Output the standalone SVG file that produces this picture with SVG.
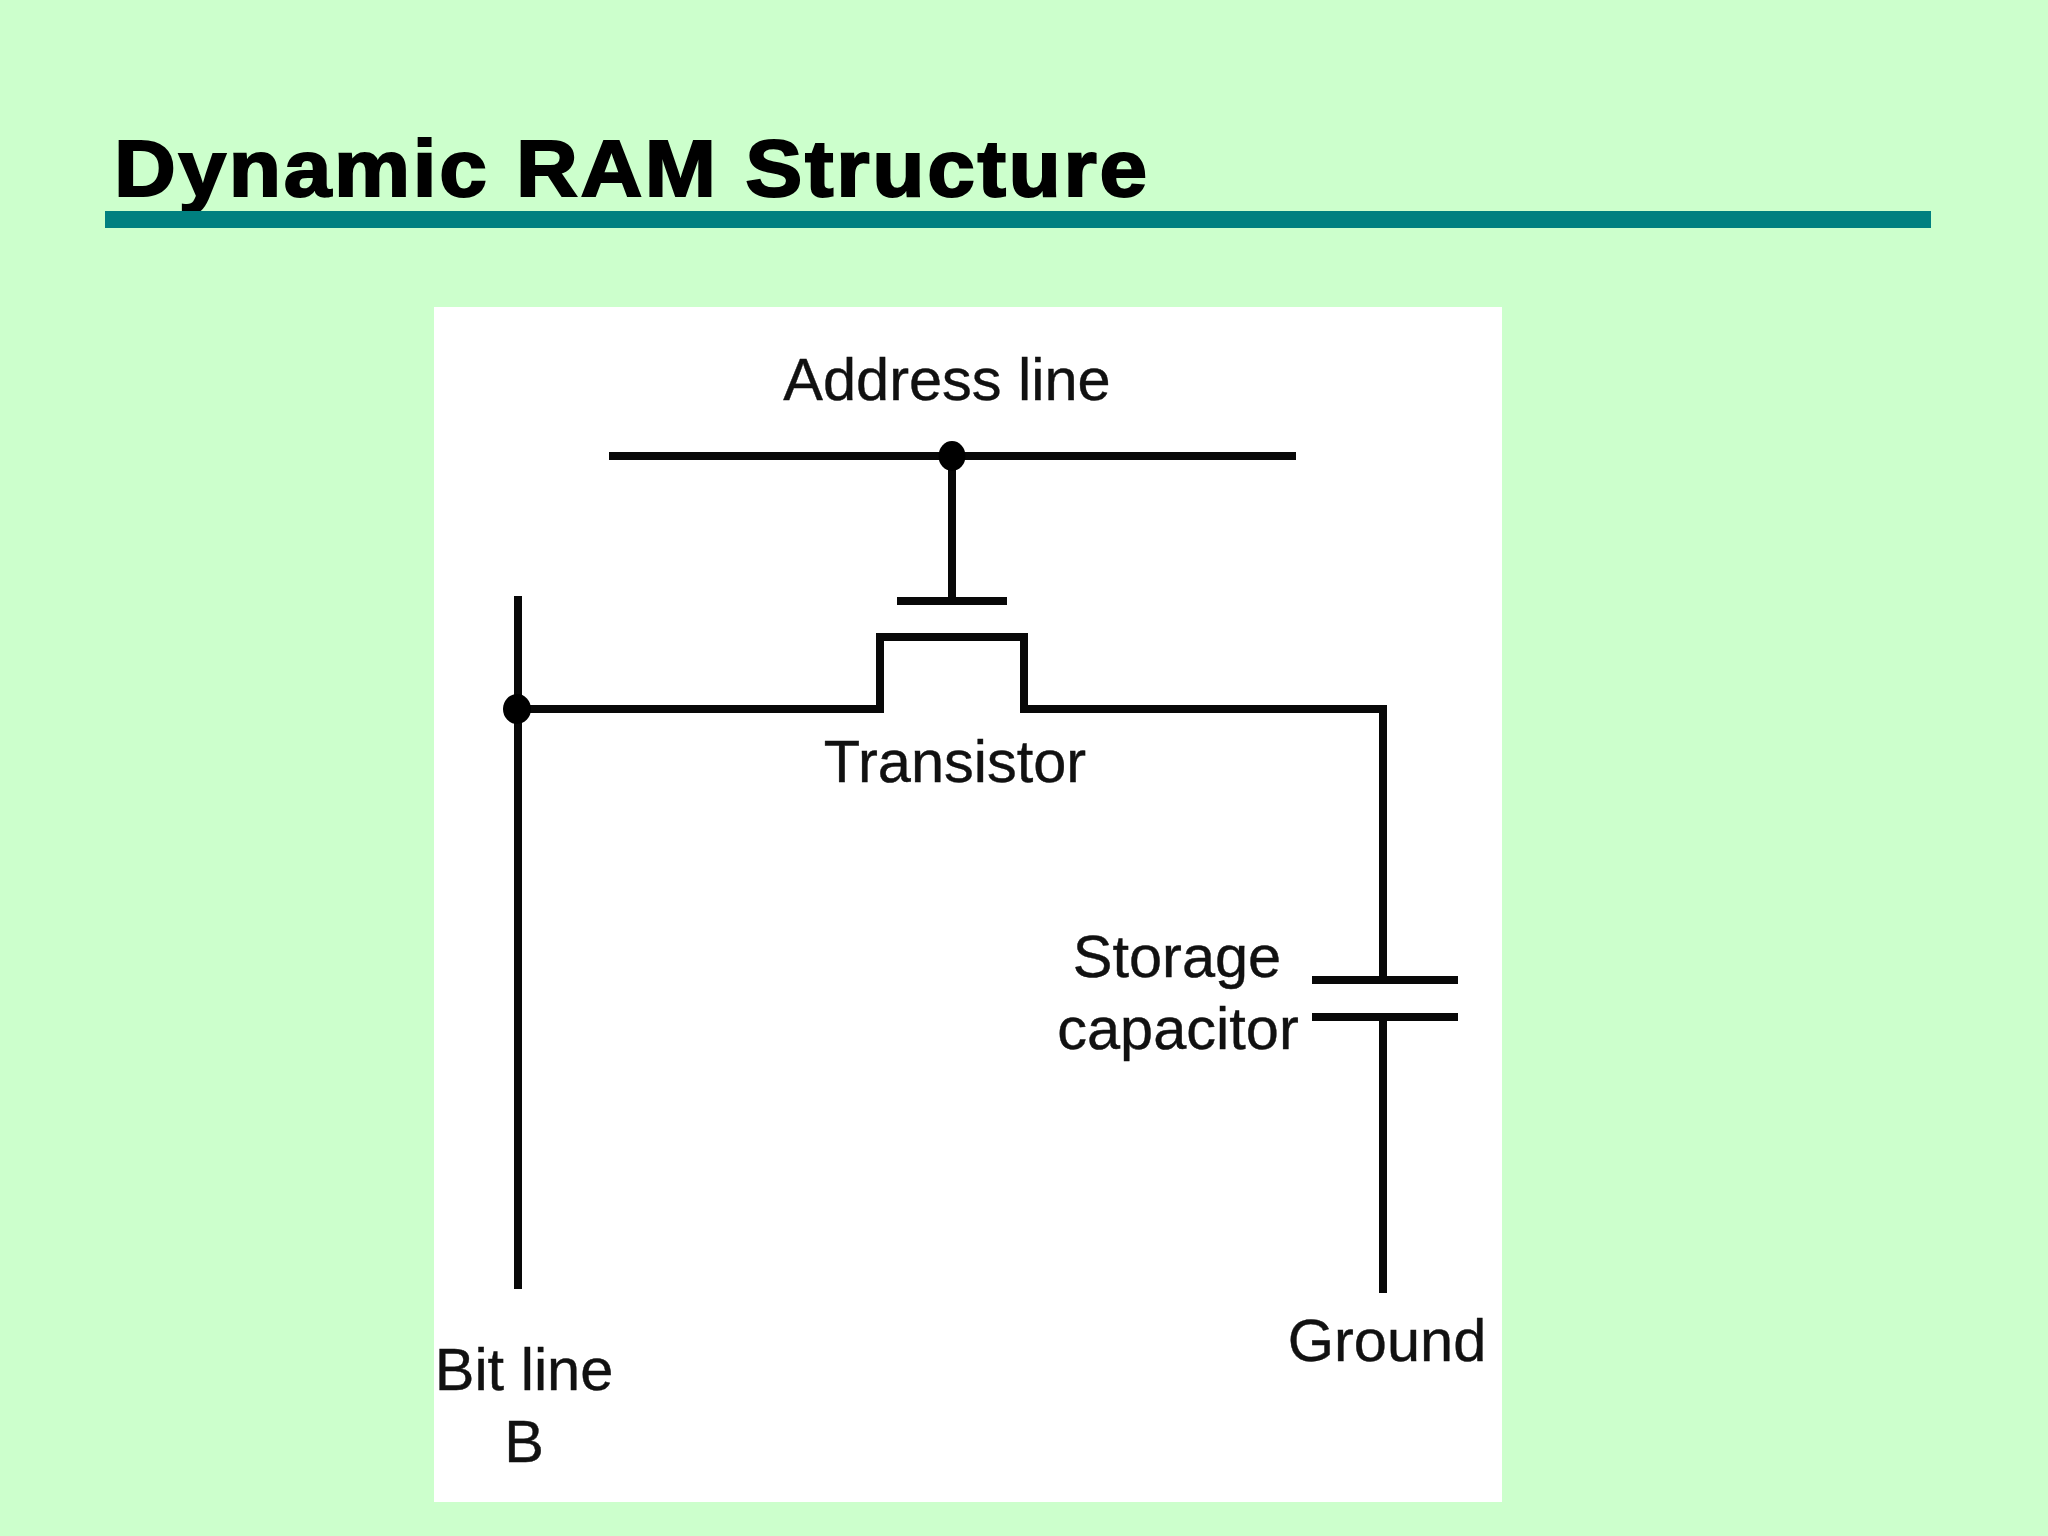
<svg xmlns="http://www.w3.org/2000/svg" width="2048" height="1536" viewBox="0 0 2048 1536">
<style>
.t{font-family:"Liberation Sans",Arial,sans-serif;font-size:59.5px;fill:#111;stroke:#111;stroke-width:.4;text-anchor:middle}
.w{fill:none;stroke:#080808;stroke-width:8;stroke-linejoin:miter}
.d{fill:#000}
</style>
<rect width="2048" height="1536" fill="#CCFFCC"/>
<g id="title">
<text transform="translate(114 195.5) scale(1.07 1)" font-family="'Liberation Sans',Arial,sans-serif" font-weight="700" font-size="80" letter-spacing="2.5" fill="#000" stroke="#000" stroke-width="2">Dynamic RAM Structure</text>
<rect x="105" y="211" width="1826" height="17" fill="#008080"/>
</g>
<rect id="panel" x="434" y="307" width="1068" height="1195" fill="#FFFFFF"/>
<g id="connectors">
<path class="w" d="M609 456H1296"/>
<path class="w" d="M952 456V601"/>
<path class="w" d="M897 601H1007"/>
<path class="w" d="M518 596V1289"/>
<path class="w" d="M518 709H880V637H1024V709H1383V981"/>
<path class="w" d="M1312 980H1458"/>
<path class="w" d="M1312 1017H1458"/>
<path class="w" d="M1383 1017V1293"/>
</g>
<g id="node-address-line"><ellipse class="d" cx="952" cy="456" rx="13.5" ry="15"/><text class="t" x="947" y="400">Address line</text></g>
<g id="node-bit-junction"><ellipse class="d" cx="517" cy="709" rx="14" ry="15"/></g>
<g id="node-transistor"><text class="t" x="955" y="782">Transistor</text></g>
<g id="node-capacitor"><text class="t" x="1177" y="977">Storage</text><text class="t" x="1178" y="1049">capacitor</text></g>
<g id="node-ground"><text class="t" x="1387" y="1361">Ground</text></g>
<g id="node-bit-line"><text class="t" x="524" y="1390">Bit line</text><text class="t" x="524" y="1462">B</text></g>
</svg>
